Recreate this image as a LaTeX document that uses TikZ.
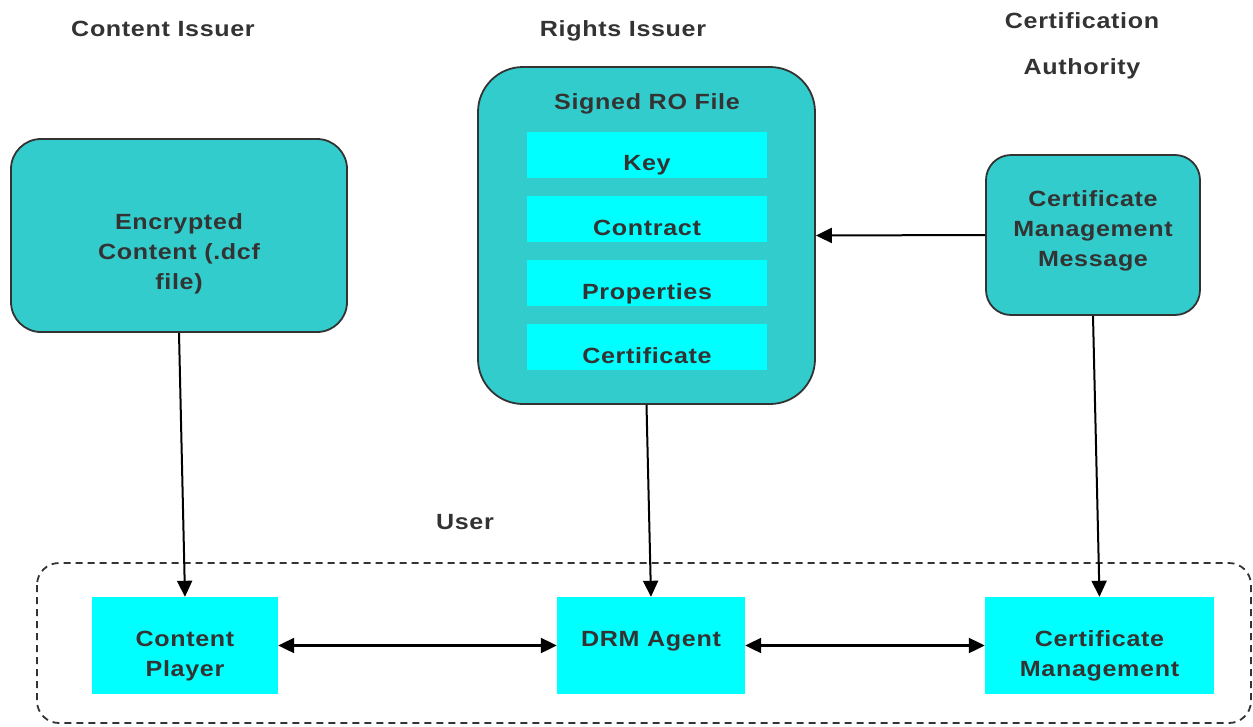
\documentclass[tikz,border=0pt]{standalone}
\usepackage{fontspec}
\setmainfont{Liberation Sans}[FakeStretch=1.14, LetterSpace=3]
\usetikzlibrary{arrows.meta,calc}
\definecolor{teal1}{HTML}{33CCCC}
\definecolor{cyan1}{HTML}{00FFFF}
\definecolor{txt}{HTML}{333333}
\tikzset{
  lbl/.style={font=\fontsize{22}{30}\selectfont\bfseries, text=txt, align=center, inner sep=0pt},
  tealbox/.style={draw=txt, line width=1.8pt, fill=teal1},
  cybox/.style={fill=cyan1},
  tip/.style={Triangle[length=16pt,width=15pt]},
  conn/.style={line width=2pt, draw=black, -{Triangle[length=16pt,width=15pt]}},
  dconn/.style={line width=2.2pt, draw=black, {Triangle[length=16pt,width=15pt]}-{Triangle[length=16pt,width=15pt]}},
}
\begin{document}
\begin{tikzpicture}[x=1pt,y=-1pt]
\useasboundingbox (0,0) rectangle (1253,726);
% headers
\node[lbl] (hci) at (163,29) {Content Issuer};
\node[lbl] (hri) at (623,31) {Rights Issuer};
\node[lbl] (hca1) at (1082,21) {Certification};
\node[lbl] (hca2) at (1082,69) {Authority};
\node[lbl] (huser) at (465,522) {User};
% user group
\draw[dash pattern=on 7pt off 5pt, line width=1.8pt, draw=txt, rounded corners=22pt] (37,563) rectangle (1251,723);
% boxes
\node[tealbox, rounded corners=30pt, minimum width=336pt, minimum height=193pt] (enc) at (179,235.5) {};
\node[lbl] (enct) at (179,254) {Encrypted\\Content (.dcf\\file)};
\node[tealbox, rounded corners=45pt, minimum width=337pt, minimum height=337pt] (ro) at (646.5,235.5) {};
\node[lbl] (rot) at (647,104) {Signed RO File};
\node[cybox, minimum width=240pt, minimum height=46pt] (key) at (647,155) {};
\node[cybox, minimum width=240pt, minimum height=46pt] (con) at (647,219) {};
\node[cybox, minimum width=240pt, minimum height=46pt] (prop) at (647,283) {};
\node[cybox, minimum width=240pt, minimum height=46pt] (cert) at (647,347) {};
\node[lbl] (keyt) at (647,165) {Key};
\node[lbl] (cont) at (647,228) {Contract};
\node[lbl] (propt) at (647,294) {Properties};
\node[lbl] (certt) at (647,356) {Certificate};
\node[tealbox, rounded corners=25pt, minimum width=214pt, minimum height=160pt] (cmm) at (1093,235) {};
\node[lbl] (cmmt) at (1093,230.5) {Certificate\\Management\\Message};
\node[cybox, minimum width=186pt, minimum height=97pt] (cp) at (185,645.5) {};
\node[lbl] (cpt) at (185,656) {Content\\Player};
\node[cybox, minimum width=188pt, minimum height=97pt] (drm) at (651,645.5) {};
\node[lbl] (drmt) at (651,641) {DRM Agent};
\node[cybox, minimum width=229pt, minimum height=97pt] (cm) at (1099.5,645.5) {};
\node[lbl] (cmt) at (1099.5,656) {Certificate\\Management};
% connectors
\draw[conn] (enc.south) -- (cp.north);
\draw[conn] (ro.south) -- (drm.north);
\draw[conn] (cmm.south) -- (cm.north);
\draw[conn] (cmm.west) -- (ro.east);
\draw[dconn] (cp.east) -- (drm.west);
\draw[dconn] (drm.east) -- (cm.west);
\end{tikzpicture}
\end{document}
